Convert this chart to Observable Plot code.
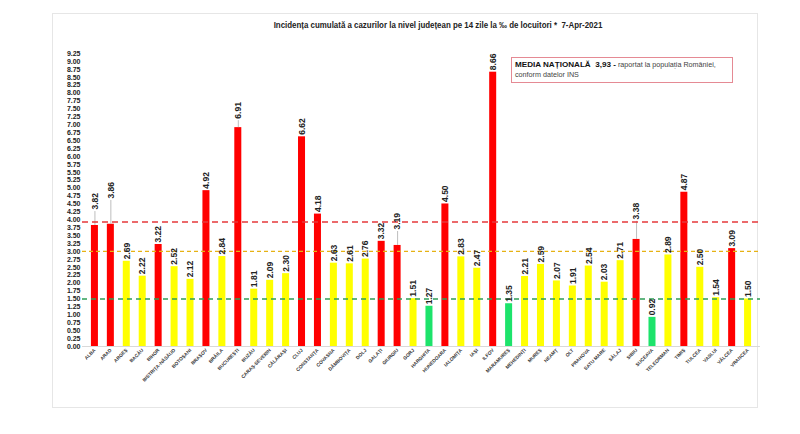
<!DOCTYPE html>
<html>
<head>
<meta charset="utf-8">
<script src="https://cdn.jsdelivr.net/npm/d3@7"></script>
<script src="https://cdn.jsdelivr.net/npm/@observablehq/plot@0.6"></script>
<style>
  body { margin: 0; background: #fff; }
  #wrap { position: relative; width: 800px; height: 434px; overflow: hidden; font-family: "Liberation Sans", Arial, sans-serif; }
  #frame { position: absolute; left: 52px; top: 13px; width: 706px; height: 395px; border: 1px solid #e6e6e6; box-sizing: border-box; }
  #title { position: absolute; left: 238px; top: 20px; width: 400px; text-align: center; font-size: 8.6px; font-weight: bold; color: #222; transform: scaleX(0.92); transform-origin: center; white-space: nowrap; }
  #legend { position: absolute; left: 511px; top: 57px; width: 222px; height: 26px; border: 1px solid #e58a94; box-sizing: border-box; background: #fff; padding: 2px 3px; font-size: 7.2px; line-height: 10px; color: #444; white-space: nowrap; }
  #legend b { color: #111; font-size: 8.1px; }
  #chart { position: absolute; left: 0; top: 0; }
  #chart g[aria-label^="x-axis"] text { font-size: 4.8px; font-weight: bold; fill: #333; }
  #chart g[aria-label^="y-axis"] text { font-size: 7px; font-weight: bold; fill: #222; }
</style>
</head>
<body>
<div id="wrap">
  <div id="frame"></div>
  <div id="chart"></div>
  <div id="title">Incidența cumulată a cazurilor la nivel județean pe 14 zile la ‰ de locuitori *&nbsp;&nbsp;7-Apr-2021</div>
  <div id="legend"><b>MEDIA NAȚIONALĂ&nbsp; 3,93 -</b> raportat la populația României,<br>conform datelor INS</div>
</div>
<script>
const counties = ["ALBA","ARAD","ARGEȘ","BACĂU","BIHOR","BISTRIȚA-NĂSĂUD","BOTOȘANI","BRAȘOV","BRĂILA","BUCUREȘTI",
  "BUZĂU","CARAȘ-SEVERIN","CĂLĂRAȘI","CLUJ","CONSTANȚA","COVASNA","DÂMBOVIȚA","DOLJ","GALAȚI","GIURGIU",
  "GORJ","HARGHITA","HUNEDOARA","IALOMIȚA","IAȘI","ILFOV","MARAMUREȘ","MEHEDINȚI","MUREȘ","NEAMȚ",
  "OLT","PRAHOVA","SATU MARE","SĂLAJ","SIBIU","SUCEAVA","TELEORMAN","TIMIȘ","TULCEA","VASLUI","VÂLCEA","VRANCEA"];
const values = [3.82,3.86,2.69,2.22,3.22,2.52,2.12,4.92,2.84,6.91,
  1.81,2.09,2.30,6.62,4.18,2.63,2.61,2.76,3.32,3.19,
  1.51,1.27,4.50,2.83,2.47,8.66,1.35,2.21,2.59,2.07,
  1.91,2.54,2.03,2.71,3.38,0.92,2.89,4.87,2.50,1.54,3.09,1.50];
// labels lifted above their bars with a leader line
const liftedCounties = ["ALBA","ARAD","BUCUREȘTI","GIURGIU","SIBIU"];
const liftAmounts = [0.44,0.75,0.22,0.44,0.57];
const yTicks = [0,0.25,0.5,0.75,1,1.25,1.5,1.75,2,2.25,2.5,2.75,3,3.25,3.5,3.75,4,4.25,4.5,4.75,5,5.25,5.5,5.75,6,6.25,6.5,6.75,7,7.25,7.5,7.75,8,8.25,8.5,8.75,9,9.25];
const nationalAverage = 3.93;
const highThreshold = 3.0;
const lowThreshold = 1.5;

const rows = counties.map((c, i) => {
  const li = liftedCounties.indexOf(c);
  return {county: c, value: values[i], lift: li >= 0 ? liftAmounts[li] : 0};
});
const barColor = v => v > highThreshold ? "#ff0000" : v >= lowThreshold ? "#ffff00" : "#1de36b";
const fmt = d3.format(".2f");

const chart = Plot.plot({
  width: 800,
  height: 434,
  marginLeft: 82,
  marginRight: 40,
  marginTop: 53,
  marginBottom: 88,
  style: {fontFamily: "'Liberation Sans', Arial, sans-serif", background: "transparent"},
  x: {domain: counties, padding: 0.56, tickRotate: -45, tickSize: 0, tickPadding: 3, label: null},
  y: {domain: [0, 9.25], ticks: yTicks, tickFormat: ".2f", tickSize: 0, tickPadding: 2, label: null},
  color: {type: "identity"},
  marks: [
    Plot.ruleY([0], {stroke: "#d9d9d9"}),
    Plot.barY(rows, {x: "county", y: "value", fill: d => barColor(d.value)}),
    Plot.ruleX(rows.filter(d => d.lift > 0), {x: "county", y1: "value", y2: d => d.value + d.lift, stroke: "#bdbdbd", strokeWidth: 1}),
    Plot.ruleY([nationalAverage], {stroke: "#e5393b", strokeWidth: 1.5, strokeDasharray: "6,4"}),
    Plot.ruleY([highThreshold], {stroke: "#e6b214", strokeWidth: 1.3, strokeDasharray: "4,3"}),
    Plot.ruleY([lowThreshold], {stroke: "#2f9e57", strokeWidth: 1.3, strokeDasharray: "5,4"}),
    Plot.text(rows, {x: "county", y: d => d.value + d.lift, text: d => fmt(d.value), rotate: -90,
      textAnchor: "start", lineAnchor: "middle", dy: -2, fontSize: 8.5, fontWeight: "bold", fill: "#222"})
  ]
});
document.getElementById("chart").appendChild(chart);
</script>
</body>
</html>
